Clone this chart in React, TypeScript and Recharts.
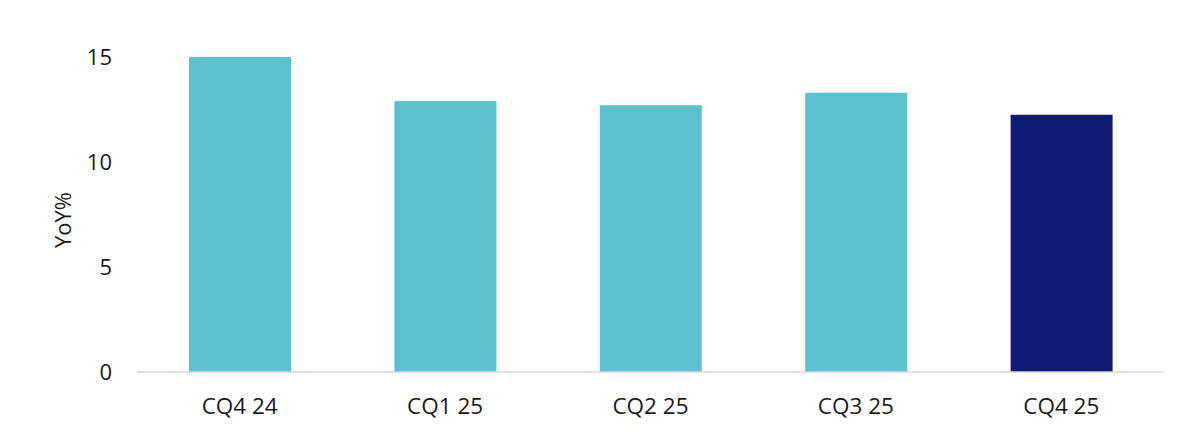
import { BarChart, Bar, XAxis, YAxis, Cell } from "recharts";

const quarters = ["CQ4 24", "CQ1 25", "CQ2 25", "CQ3 25", "CQ4 25"];
const yoyGrowth = [15.0, 12.9, 12.7, 13.3, 12.25];
const yTicks = [0, 5, 10, 15];
const highlightQuarter = "CQ4 25";

const TEAL = "#5dc0cf";
const NAVY = "#111a72";
const TEXT = "#1a1a1a";
const FONT = "'Open Sans', sans-serif";

const rows = quarters.map((q, i) => ({ quarter: q, yoy: yoyGrowth[i] }));

export default function App() {
  return (
    <div style={{ position: "absolute", left: 0, top: 0, background: "#fff" }}>
      <BarChart
        width={1194}
        height={439}
        data={rows}
        margin={{ top: 57, right: 30, bottom: 0, left: 0 }}
      >
        <XAxis
          dataKey="quarter"
          height={67}
          tickLine={false}
          tickSize={0}
          tickMargin={26}
          axisLine={{ stroke: "#d9d9d9", strokeWidth: 1.5 }}
          tick={{ fill: TEXT, fontSize: 22.5, fontFamily: FONT }}
        />
        <YAxis
          width={137}
          domain={[0, 15]}
          ticks={yTicks}
          axisLine={false}
          tickLine={false}
          tickSize={0}
          tickMargin={25}
          tick={{ fill: TEXT, fontSize: 22, fontFamily: FONT }}
          label={{
            content: () => (
              <text
                transform="translate(62,220) rotate(-90)"
                textAnchor="middle"
                dominantBaseline="central"
                fill={TEXT}
                fontSize={22}
                fontFamily={FONT}
              >
                YoY%
              </text>
            ),
          }}
        />
        <Bar dataKey="yoy" barSize={102} isAnimationActive={false}>
          {rows.map((r) => (
            <Cell key={r.quarter} fill={r.quarter === highlightQuarter ? NAVY : TEAL} />
          ))}
        </Bar>
      </BarChart>
    </div>
  );
}
